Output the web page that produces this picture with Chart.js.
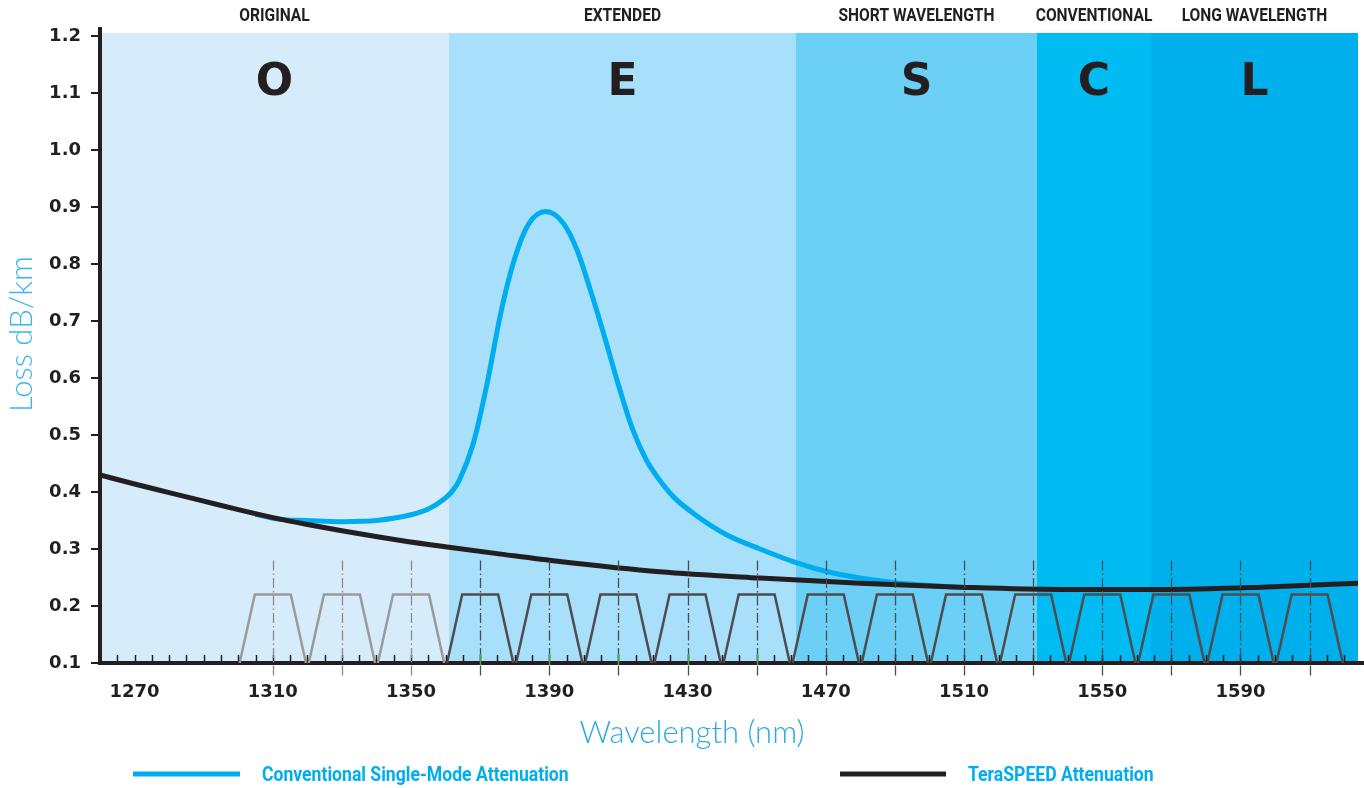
<!DOCTYPE html>
<html><head><meta charset="utf-8">
<script src="https://cdn.jsdelivr.net/npm/chart.js@4.4.1/dist/chart.umd.min.js"></script>
<style>html,body{margin:0;padding:0;background:#fff;}#wrap{width:1364px;height:788px;position:relative;}</style>
</head><body><div id="wrap"><canvas id="c" width="1364" height="788"></canvas></div>
<script>
// ---------- data ----------
const bandNames   = ['ORIGINAL', 'EXTENDED', 'SHORT WAVELENGTH', 'CONVENTIONAL', 'LONG WAVELENGTH'];
const bandLetters = ['O', 'E', 'S', 'C', 'L'];
const bandEdges   = [1260, 1361, 1461.5, 1531, 1564, 1624];
const bandColors  = ['#D6ECFA', '#A8DFFA', '#6CCFF6', '#00BCF2', '#00B0EC'];

const xTickLabels = [1270, 1310, 1350, 1390, 1430, 1470, 1510, 1550, 1590];
const yTickLabels = [0.1, 0.2, 0.3, 0.4, 0.5, 0.6, 0.7, 0.8, 0.9, 1.0, 1.1, 1.2];

const conventionalWl   = [1305, 1312, 1320, 1330, 1340, 1350, 1355, 1359, 1362, 1364, 1368, 1372, 1376, 1380, 1384, 1389, 1394, 1398, 1402, 1406, 1410, 1414, 1418, 1422, 1426, 1432, 1441, 1451, 1461, 1470, 1480, 1490, 1500, 1510];
const conventionalLoss = [0.361, 0.352, 0.350, 0.348, 0.350, 0.360, 0.370, 0.385, 0.402, 0.421, 0.485, 0.590, 0.715, 0.810, 0.870, 0.892, 0.872, 0.825, 0.752, 0.672, 0.588, 0.512, 0.457, 0.420, 0.391, 0.361, 0.326, 0.300, 0.277, 0.261, 0.249, 0.241, 0.236, 0.232];

const teraWl   = [1260, 1270, 1280, 1290, 1300, 1310, 1320, 1330, 1347, 1361, 1376, 1393, 1422, 1451, 1480, 1509, 1538, 1567, 1596, 1624];
const teraLoss = [0.430, 0.414, 0.399, 0.384, 0.369, 0.355, 0.343, 0.332, 0.315, 0.303, 0.291, 0.278, 0.260, 0.249, 0.240, 0.233, 0.229, 0.229, 0.233, 0.240];

const channelCenters = [1310, 1330, 1350, 1370, 1390, 1410, 1430, 1450, 1470, 1490, 1510, 1530, 1550, 1570, 1590, 1610];
const oBandChannels  = [1310, 1330, 1350];
const highlightChannels = [1370, 1390, 1410, 1430, 1450];
const passFloor = 0.1, passTop = 0.22, passOuter = 9.6, passInner = 5.2;
const channelLineTop = 0.28;

const seriesNames = ['Conventional Single-Mode Attenuation', 'TeraSPEED Attenuation'];

// ---------- helpers ----------
function trapezoids(centers) {
  const pts = [];
  centers.forEach(c => {
    pts.push({x: c - passOuter, y: passFloor}, {x: c - passInner, y: passTop},
             {x: c + passInner, y: passTop}, {x: c + passOuter, y: passFloor},
             {x: c + passOuter + 0.01, y: null});
  });
  return pts;
}
function pairs(xs, ys) { return xs.map((x, i) => ({x, y: ys[i]})); }
function condText(ctx, txt, x, y, font, color, sx, align) {
  ctx.save(); ctx.font = font; ctx.fillStyle = color; ctx.textAlign = 'left'; ctx.textBaseline = 'alphabetic';
  const w = ctx.measureText(txt).width * sx;
  let x0 = x; if (align === 'center') x0 = x - w / 2; else if (align === 'right') x0 = x - w;
  ctx.translate(x0, y); ctx.scale(sx, 1); ctx.fillText(txt, 0, 0); ctx.restore();
}

const INK = '#231F20', BLUE = '#00AEEF';

const decor = {
  id: 'decor',
  beforeDraw(chart) {
    const {ctx, chartArea: a, scales: {x, y}} = chart;
    ctx.save();
    for (let i = 0; i < bandColors.length; i++) {
      const x0 = Math.round(x.getPixelForValue(bandEdges[i])), x1 = Math.round(x.getPixelForValue(bandEdges[i + 1]));
      ctx.fillStyle = bandColors[i];
      ctx.fillRect(x0, Math.round(a.top) - 3, x1 - x0, Math.round(a.bottom - a.top) + 3);
      const cx = (x0 + x1) / 2;
      condText(ctx, bandNames[i], cx, 21, 'bold 19px Roboto', INK, 0.82, 'center');
      ctx.font = 'bold 44px "DejaVu Sans"'; ctx.fillStyle = INK; ctx.textAlign = 'center'; ctx.textBaseline = 'alphabetic';
      ctx.fillText(bandLetters[i], cx, a.top + 59);
    }
    ctx.restore();
  },
  afterDatasetsDraw(chart) {
    const {ctx, chartArea: a, scales: {x, y}} = chart;
    ctx.save();
    ctx.strokeStyle = INK; ctx.lineWidth = 1.5;
    for (let v = 1265; v < 1624; v += 5) {
      const px = Math.round(x.getPixelForValue(v)) + 0.5;
      ctx.beginPath(); ctx.moveTo(px, a.bottom - 2); ctx.lineTo(px, a.bottom - 8); ctx.stroke();
    }
    ctx.lineWidth = 1.3; ctx.setLineDash([10, 3, 1.5, 3]);
    const yTop = y.getPixelForValue(channelLineTop);
    channelCenters.forEach(c => {
      const px = Math.round(x.getPixelForValue(c)) + 0.5;
      ctx.strokeStyle = oBandChannels.includes(c) ? '#8C8C8C' : '#4D4D4F';
      ctx.beginPath(); ctx.moveTo(px, yTop); ctx.lineTo(px, a.bottom + 15); ctx.stroke();
    });
    ctx.setLineDash([]);
    ctx.strokeStyle = '#3DAE49'; ctx.lineWidth = 1.5;
    highlightChannels.forEach(c => {
      const px = Math.round(x.getPixelForValue(c)) + 0.5;
      ctx.beginPath(); ctx.moveTo(px, a.bottom - 9); ctx.lineTo(px, a.bottom + 2); ctx.stroke();
    });
    ctx.restore();
  },
  afterDraw(chart) {
    const {ctx, chartArea: a, scales: {x, y}} = chart;
    ctx.save();
    ctx.fillStyle = INK;
    ctx.fillRect(y.right - 2, a.top - 9, 4, 10);
    ctx.fillRect(a.right - 1, a.bottom - 2, chart.width - a.right + 1, 4);
    ctx.font = '300 31px Lato'; ctx.fillStyle = '#29ABE2'; ctx.textAlign = 'center'; ctx.textBaseline = 'alphabetic';
    ctx.fillText('Wavelength (nm)', 692, 743);
    ctx.save(); ctx.translate(32, 334); ctx.rotate(-Math.PI / 2);
    ctx.fillStyle = '#3DB6E9'; ctx.fillText('Loss dB/km', 0, 0); ctx.restore();
    ctx.lineWidth = 5;
    ctx.strokeStyle = BLUE; ctx.beginPath(); ctx.moveTo(133, 774); ctx.lineTo(240, 774); ctx.stroke();
    ctx.strokeStyle = INK; ctx.beginPath(); ctx.moveTo(840, 774); ctx.lineTo(946, 774); ctx.stroke();
    condText(ctx, seriesNames[0], 262, 781, 'bold 20px Roboto', BLUE, 0.88, 'left');
    condText(ctx, seriesNames[1], 968, 781, 'bold 20px Roboto', BLUE, 0.88, 'left');
    ctx.restore();
  }
};

new Chart(document.getElementById('c'), {
  type: 'line',
  data: {
    datasets: [
      {label: seriesNames[1], data: pairs(teraWl, teraLoss), borderColor: INK, borderWidth: 5,
       pointRadius: 0, cubicInterpolationMode: 'monotone', order: 0},
      {label: seriesNames[0], data: pairs(conventionalWl, conventionalLoss), borderColor: BLUE, borderWidth: 5,
       pointRadius: 0, cubicInterpolationMode: 'monotone', order: 1},
      {label: 'channels E-L', data: trapezoids(channelCenters.filter(c => !oBandChannels.includes(c))),
       borderColor: '#4D4D4F', borderWidth: 2.5, pointRadius: 0, tension: 0, spanGaps: false, order: 2},
      {label: 'channels O', data: trapezoids(oBandChannels),
       borderColor: '#9A9A9A', borderWidth: 2.5, pointRadius: 0, tension: 0, spanGaps: false, order: 3}
    ]
  },
  options: {
    responsive: false, animation: false,
    layout: {padding: {top: 36, right: 6, left: 0, bottom: 0}},
    plugins: {legend: {display: false}, tooltip: {enabled: false}},
    scales: {
      x: {
        type: 'linear', min: 1260, max: 1624,
        afterFit: s => { s.height = 125; },
        afterBuildTicks: s => { s.ticks = xTickLabels.map(v => ({value: v})); },
        ticks: {color: INK, font: {family: 'DejaVu Sans', weight: 'bold', size: 18}, padding: 19, maxRotation: 0, autoSkip: false,
                callback: v => String(v)},
        grid: {display: false, drawTicks: false},
        border: {display: true, color: INK, width: 4}
      },
      y: {
        min: 0.1, max: 1.2,
        afterFit: s => { s.width = 100; },
        afterBuildTicks: s => { s.ticks = yTickLabels.map(v => ({value: v})); },
        ticks: {color: INK, font: {family: 'DejaVu Sans', weight: 'bold', size: 18}, padding: 10,
                callback: v => Number(v).toFixed(1)},
        grid: {drawOnChartArea: false, drawTicks: true, tickLength: 9, color: INK, lineWidth: 2},
        border: {display: true, color: INK, width: 4}
      }
    }
  },
  plugins: [decor]
});
</script></body></html>
